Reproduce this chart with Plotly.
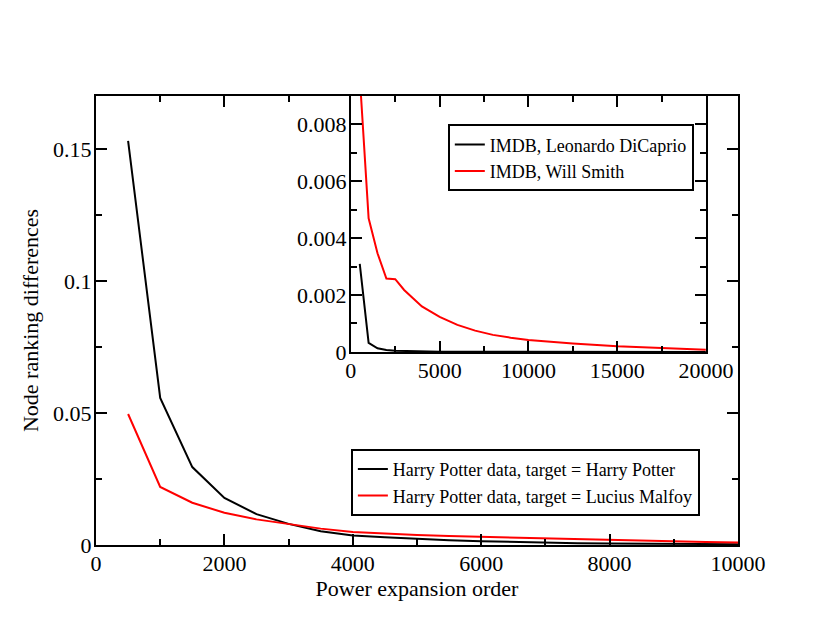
import plotly.graph_objects as go

# main panel data (Harry Potter)
order_main = [500, 1000, 1500, 2000, 2500, 3000, 3500, 4000, 4500, 5000,
              5500, 6000, 6500, 7000, 7500, 8000, 8500, 9000, 9500, 10000]
hp_harry = [0.153, 0.0557, 0.0295, 0.0178, 0.0117, 0.0080, 0.0052, 0.0036, 0.0029, 0.0023,
            0.0018, 0.0014, 0.0011, 0.0009, 0.0007, 0.0006, 0.0005, 0.0004, 0.0003, 0.0003]
hp_lucius = [0.0496, 0.0220, 0.0160, 0.0122, 0.0097, 0.0080, 0.0062, 0.0049, 0.0043, 0.0038,
             0.0034, 0.0031, 0.0027, 0.0024, 0.0021, 0.0018, 0.0016, 0.0013, 0.0011, 0.0009]

# inset data (IMDB)
order_inset = [500, 1000, 1500, 2000, 2500, 3000, 3500, 4000, 5000, 6000, 7000,
               8000, 9000, 10000, 12500, 15000, 17500, 20000]
imdb_dicaprio = [0.0031, 0.00032, 0.00013, 0.00007, 0.00004, 0.00003, 0.00002, 0.000015, 0.00001,
                 0.000008, 0.000006, 0.000005, 0.000004, 0.000003, 0.000002, 0.000002, 0.000001, 0.000001]
imdb_smith = [0.0097, 0.0047, 0.00347, 0.00258, 0.00256, 0.00218, 0.00189, 0.0016, 0.00123, 0.00095,
              0.00075, 0.0006, 0.0005, 0.00042, 0.0003, 0.0002, 0.00014, 0.00008]

FONT = "Liberation Serif"

fig = go.Figure()
fig.add_trace(go.Scatter(x=order_main, y=hp_harry, mode="lines", line=dict(color="black", width=2),
                         name="Harry Potter data, target = Harry Potter", legend="legend"))
fig.add_trace(go.Scatter(x=order_main, y=hp_lucius, mode="lines", line=dict(color="red", width=2),
                         name="Harry Potter data, target = Lucius Malfoy", legend="legend"))
fig.add_trace(go.Scatter(x=order_inset, y=imdb_dicaprio, mode="lines", line=dict(color="black", width=2),
                         name="IMDB, Leonardo DiCaprio", xaxis="x2", yaxis="y2", legend="legend2"))
fig.add_trace(go.Scatter(x=order_inset, y=imdb_smith, mode="lines", line=dict(color="red", width=2),
                         name="IMDB, Will Smith", xaxis="x2", yaxis="y2", legend="legend2"))

axis_style = dict(showline=True, linecolor="black", linewidth=2, mirror="allticks",
                  ticks="inside", ticklen=11, tickwidth=1.5, tickcolor="black",
                  showgrid=False, zeroline=False, ticklabelstandoff=-2,
                  tickfont=dict(family=FONT, size=22, color="black"))
minor_style = dict(ticks="inside", ticklen=6, tickwidth=1.5, tickcolor="black", showgrid=False)

fig.update_layout(
    width=830, height=642,
    paper_bgcolor="white", plot_bgcolor="white",
    font=dict(family=FONT, color="black"),
    margin=dict(l=88, r=100, t=88, b=105),
    xaxis=dict(range=[0, 10000], tickvals=[0, 2000, 4000, 6000, 8000, 10000],
               ticktext=["0", "2000", "4000", "6000", "8000", "10000"],
               minor=dict(dtick=1000, **minor_style),
               title=dict(text="Power expansion order", font=dict(family=FONT, size=22), standoff=0),
               domain=[0, 1], **axis_style),
    yaxis=dict(range=[0, 0.17], tickvals=[0, 0.05, 0.1, 0.15], ticktext=["0", "0.05", "0.1", "0.15"],
               minor=dict(tickvals=[0.025, 0.075, 0.125], **minor_style),
               title=dict(text="Node ranking differences", font=dict(family=FONT, size=22), standoff=8),
               domain=[0, 1], **axis_style),
    xaxis2=dict(range=[0, 20000], tickvals=[0, 5000, 10000, 15000, 20000],
                ticktext=["0", "5000", "10000", "15000", "20000"],
                minor=dict(dtick=2500, **minor_style),
                anchor="y2", domain=[0.397, 0.950], **axis_style),
    yaxis2=dict(range=[0, 0.009], tickvals=[0, 0.002, 0.004, 0.006, 0.008],
                ticktext=["0", "0.002", "0.004", "0.006", "0.008"],
                minor=dict(dtick=0.001, **minor_style),
                anchor="x2", domain=[0.43, 1.0], **axis_style),
    legend=dict(x=0.397, y=0.214, xanchor="left", yanchor="top", bgcolor="white",
                bordercolor="black", borderwidth=2, font=dict(family=FONT, size=18),
                tracegroupgap=0, itemwidth=30),
    legend2=dict(x=0.548, y=0.937, xanchor="left", yanchor="top", bgcolor="white",
                 bordercolor="black", borderwidth=2, font=dict(family=FONT, size=18), itemwidth=30),
)

fig.write_html("out.html")
